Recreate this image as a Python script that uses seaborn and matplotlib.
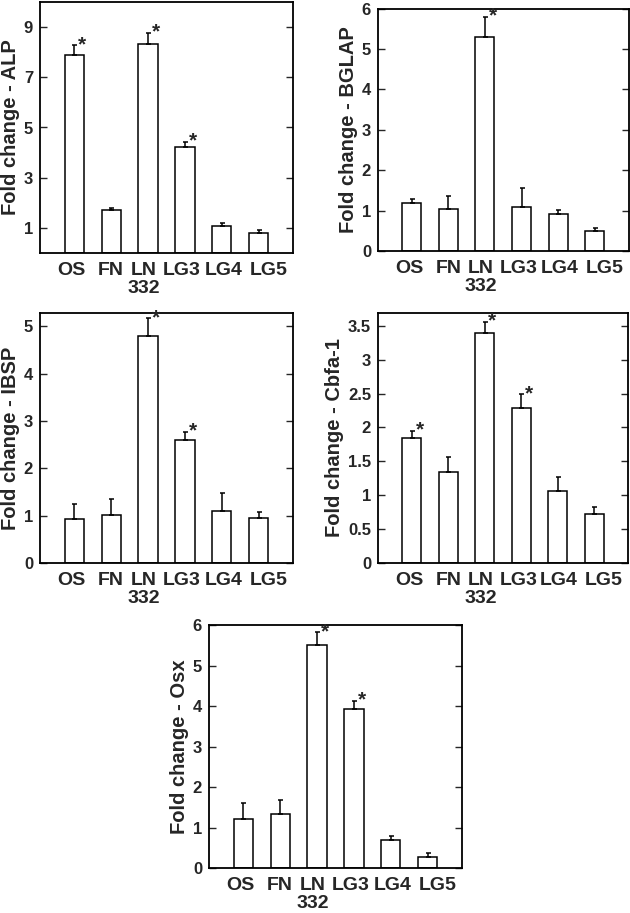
import numpy as np
import pandas as pd
import matplotlib
matplotlib.use("Agg")
import matplotlib.pyplot as plt
import seaborn as sns

sns.set_style("ticks")
plt.rcParams['font.family'] = ['Liberation Sans', 'DejaVu Sans']
plt.rcParams['font.weight'] = 'bold'

# --- data ---
groups = ["OS", "FN", "LN\n332", "LG3", "LG4", "LG5"]

alp_mean = [7.88, 1.70, 8.32, 4.21, 1.09, 0.79]
alp_err = [0.40, 0.08, 0.46, 0.21, 0.11, 0.11]
alp_sig = ["OS", "LN\n332", "LG3"]

bglap_mean = [1.20, 1.04, 5.29, 1.09, 0.92, 0.50]
bglap_err = [0.09, 0.33, 0.51, 0.46, 0.09, 0.07]
bglap_sig = ["LN\n332"]

ibsp_mean = [0.92, 1.01, 4.80, 2.60, 1.10, 0.96]
ibsp_err = [0.32, 0.34, 0.37, 0.17, 0.38, 0.11]
ibsp_sig = ["LN\n332", "LG3"]

cbfa_mean = [1.85, 1.34, 3.39, 2.29, 1.07, 0.73]
cbfa_err = [0.10, 0.23, 0.17, 0.20, 0.20, 0.09]
cbfa_sig = ["OS", "LN\n332", "LG3"]

osx_mean = [1.20, 1.33, 5.51, 3.92, 0.68, 0.27]
osx_err = [0.41, 0.34, 0.31, 0.21, 0.11, 0.10]
osx_sig = ["LN\n332", "LG3"]

alp_ticks = [1, 3, 5, 7, 9]
bglap_ticks = [0, 1, 2, 3, 4, 5, 6]
ibsp_ticks = [0, 1, 2, 3, 4, 5]
cbfa_ticks = [0, 0.5, 1, 1.5, 2, 2.5, 3, 3.5]
cbfa_ticklabels = ["0", "0.5", "1", "1.5", "2", "2.5", "3", "3.5"]
osx_ticks = [0, 1, 2, 3, 4, 5, 6]

# small horizontal nudges of the group labels (points), as in the original typesetting
label_shift = [-2, 0, -3, -2, 1, 7]

W, H = 630, 913
fig = plt.figure(figsize=(W / 100, H / 100), dpi=100)


def add_ax(left, top, right, bottom):
    return fig.add_axes([left / W, 1 - bottom / H, (right - left) / W, (bottom - top) / H])


def panel(ax, mean, err, sig, label, ticks, ymax, ticklabels=None):
    df = pd.DataFrame({"group": groups, "value": mean, "err": err})
    sns.barplot(data=df, x="group", y="value", color="white", edgecolor="black",
                linewidth=1.1, width=0.52, saturation=1, errorbar=None, ax=ax)
    ax.errorbar(np.arange(len(groups)), df["value"],
                yerr=[np.zeros(len(groups)), df["err"]],
                fmt="none", ecolor="black", elinewidth=1.1, capsize=1.8, capthick=1.1)
    for i, g in enumerate(groups):
        if g in sig:
            top = df["value"][i] + df["err"][i]
            ax.annotate("*", xy=(i, top), xytext=(5.5, 0.5), textcoords="offset points",
                        ha="center", va="center", fontsize=15, fontweight="bold")
    ax.set_xlim(-0.93, 5.93)
    ax.set_ylim(0, ymax)
    ax.set_yticks(ticks)
    if ticklabels is not None:
        ax.set_yticklabels(ticklabels)
    ax.set_xlabel("")
    ax.set_xticklabels([])
    for i, g in enumerate(groups):
        ax.annotate(g, xy=(i, 0), xycoords=("data", "axes fraction"),
                    xytext=(label_shift[i], -6.5), textcoords="offset points",
                    ha="center", va="top", fontsize=14, fontweight="bold",
                    linespacing=1.05)
    ax.set_ylabel(label, fontsize=14.5, fontweight="bold", labelpad=3)
    ax.tick_params(axis="y", direction="in", length=5, width=1, right=True,
                   labelsize=12, pad=5)
    ax.tick_params(axis="x", length=0)
    for lab in ax.get_yticklabels():
        lab.set_fontweight("bold")
    for s in ax.spines.values():
        s.set_visible(True)
        s.set_linewidth(1.3)
        s.set_color("black")


ax1 = add_ax(40, 2, 293, 253)
panel(ax1, alp_mean, alp_err, alp_sig, "Fold change - ALP", alp_ticks, 10)

ax2 = add_ax(378, 8.6, 628.5, 251)
panel(ax2, bglap_mean, bglap_err, bglap_sig, "Fold change - BGLAP", bglap_ticks, 6)

ax3 = add_ax(40, 313, 293, 563)
panel(ax3, ibsp_mean, ibsp_err, ibsp_sig, "Fold change - IBSP", ibsp_ticks, 5.28)

ax4 = add_ax(378, 313, 628, 563)
panel(ax4, cbfa_mean, cbfa_err, cbfa_sig, "Fold change - Cbfa-1", cbfa_ticks, 3.69,
      cbfa_ticklabels)

ax5 = add_ax(209, 625, 462, 868)
panel(ax5, osx_mean, osx_err, osx_sig, "Fold change - Osx", osx_ticks, 6)

fig.savefig("out.png", dpi=100)
